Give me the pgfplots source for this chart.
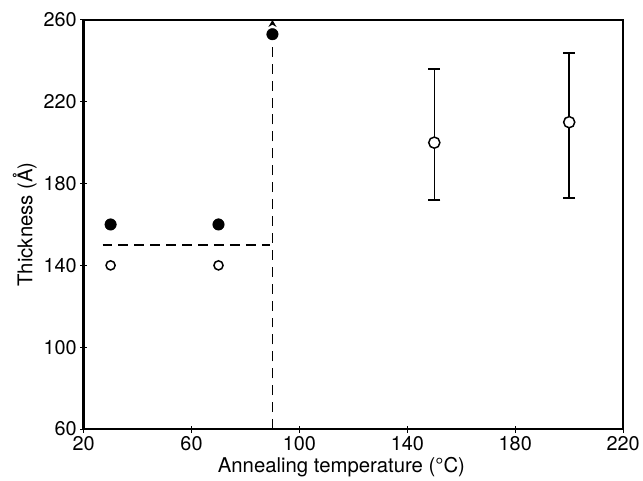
\documentclass[border=0pt]{standalone}
\usepackage{pgfplots}
\pgfplotsset{compat=1.18}
\usepackage{fontspec}
\setmainfont{TeX Gyre Heros}
\usetikzlibrary{arrows.meta}
\begin{document}
\begin{tikzpicture}
\begin{axis}[
 scale only axis, width=542bp, height=411bp,
 xmin=20, xmax=220, ymin=60, ymax=260,
 xtick={20,60,...,220}, ytick={60,100,...,260},
 tick align=center, xtick pos=bottom, ytick pos=left,
 major tick length=7bp,
 axis line style={line width=2.6pt},
 tick style={line width=1pt, black},
 font=\fontsize{20}{23}\selectfont,
 /pgf/number format/assume math mode=true,
 ticklabel style={font=\fontsize{20}{23}\selectfont},
 xlabel={Annealing temperature (°C)},
 ylabel={Thickness (Å)},
 xlabel style={xshift=-12bp, font=\fontsize{20.5}{23}\selectfont},
 ylabel style={font=\fontsize{20.5}{23}\selectfont},
 clip=false,
]
\addplot[line width=1.6pt, dash pattern=on 10bp off 6bp] coordinates {(27,150) (89,150)};
\addplot[line width=1.6pt, dash pattern=on 10bp off 7bp, -{Stealth[length=7bp,width=8bp]}] coordinates {(90,60) (90,260)};
\addplot[only marks, mark=*, mark size=5.8bp, black] coordinates {(30,160) (70,160) (90,253)};
\addplot[only marks, mark=*, mark size=4.6bp, black, mark options={fill=white, line width=1.5pt}] coordinates {(30,140) (70,140)};
\addplot[only marks, mark=*, mark size=5.6bp, black, mark options={fill=white, line width=1.5pt},
  error bars/.cd, y dir=both, y explicit,
  error bar style={line width=1.6pt},
  error mark options={rotate=90, mark size=6bp, line width=1.8pt}]
  coordinates {(150,200) += (0,36) -= (0,28) (200,210) += (0,34) -= (0,37)};
\end{axis}
\path[use as bounding box] ([xshift=-84bp,yshift=-47bp]current axis.south west) rectangle ([xshift=17bp,yshift=20bp]current axis.north east);
\end{tikzpicture}
\end{document}
